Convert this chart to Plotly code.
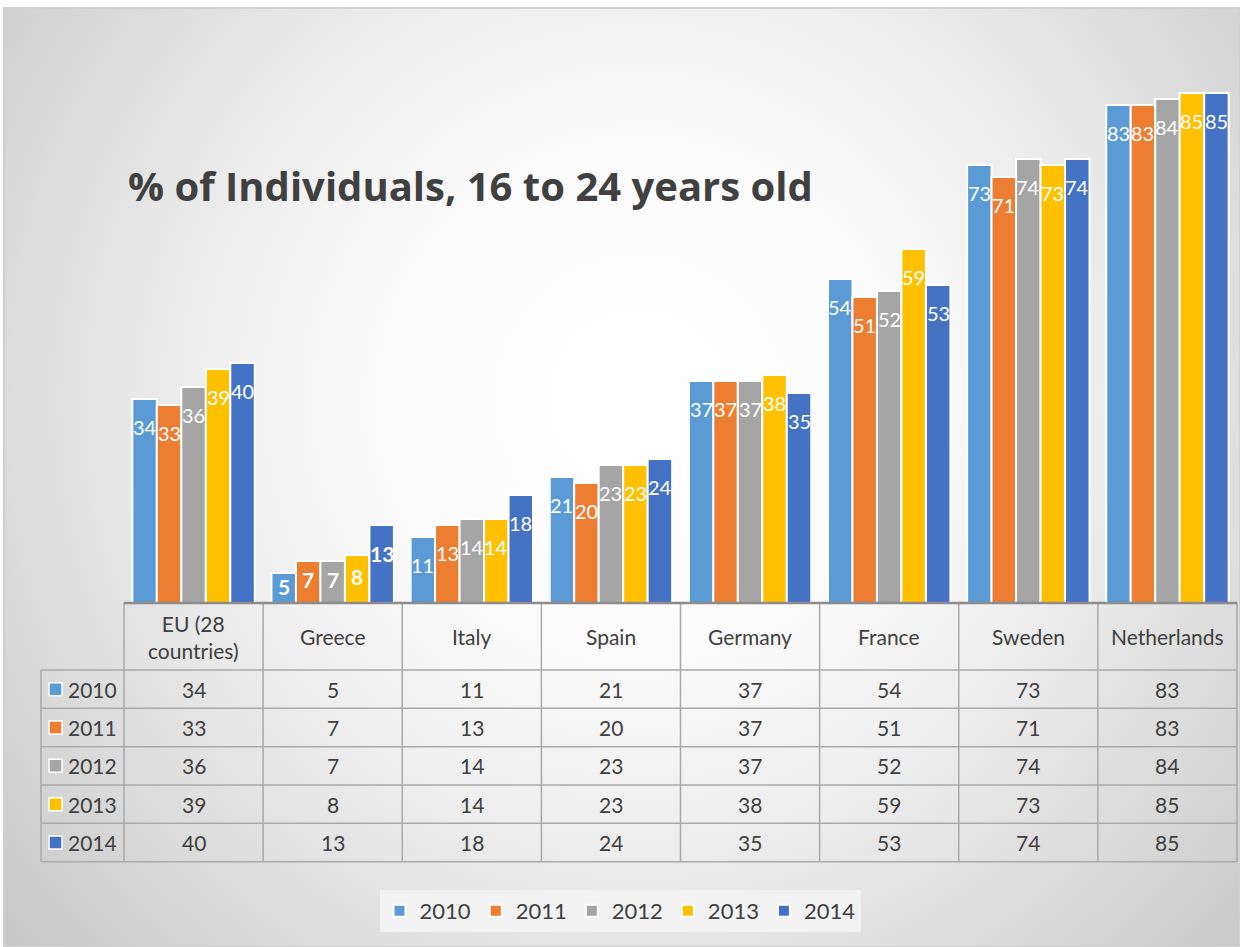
import base64
import plotly.graph_objects as go

# ---------------- data ----------------
categories = ["EU (28 countries)", "Greece", "Italy", "Spain", "Germany",
              "France", "Sweden", "Netherlands"]
years = ["2010", "2011", "2012", "2013", "2014"]
v2010 = [34, 5, 11, 21, 37, 54, 73, 83]
v2011 = [33, 7, 13, 20, 37, 51, 71, 83]
v2012 = [36, 7, 14, 23, 37, 52, 74, 84]
v2013 = [39, 8, 14, 23, 38, 59, 73, 85]
v2014 = [40, 13, 18, 24, 35, 53, 74, 85]
series = [v2010, v2011, v2012, v2013, v2014]
colors = ["#5B9BD5", "#ED7D31", "#A5A5A5", "#FFC000", "#4472C4"]
title = "% of Individuals, 16 to 24 years old"

# ---------------- geometry helpers ----------------
W, H = 1240, 947
def px(x):
    return x / W
def py(y):
    return 1 - y / H

X0, X1 = 124, 1237          # plot area / table columns
BASE, TOP = 603, 63         # baseline & top of plot area (px)
YMAX = 90
BARGAP = 0.12
cat_w = (X1 - X0) / len(categories)
bar_w = cat_w * (1 - BARGAP) / len(series)

ROW_TOP = 670
ROW_H = 38.33
ROW_LEFT = 41
FONT = "Lato, 'Open Sans', sans-serif"
TFONT = "'Open Sans', Lato, sans-serif"
TXT = "#404040"
GRID = "#a9a9a9"

fig = go.Figure()
for name, vals, col in zip(years, series, colors):
    fig.add_trace(go.Bar(
        name=name, x=categories, y=vals,
        marker=dict(color=col, line=dict(color="white", width=2)),
        hoverinfo="x+y+name",
    ))

annotations = []
shapes = []

# data labels (white, near top inside bar)
for i, (vals, col) in enumerate(zip(series, colors)):
    for cat, v in zip(categories, vals):
        bar_px = v * (BASE - TOP) / YMAX
        off = min(28, bar_px * 0.45)
        bold = cat == "Greece"
        annotations.append(dict(
            x=cat, y=v, xref="x", yref="y", showarrow=False,
            xshift=(i - (len(series) - 1) / 2) * bar_w, yshift=-off,
            yanchor="middle", xanchor="center",
            text=f"<b>{v}</b>" if bold else str(v),
            font=dict(family=FONT, size=21 if bold else 20, color="white"),
        ))

# title
annotations.append(dict(
    x=px(126), y=py(185), xref="paper", yref="paper", showarrow=False,
    xanchor="left", yanchor="middle", text=f"<b>{title}</b>",
    font=dict(family=TFONT, size=40, color=TXT),
))

# table header texts
for cat in categories:
    annotations.append(dict(
        x=cat, y=py((BASE + ROW_TOP) / 2), xref="x", yref="paper", showarrow=False,
        xanchor="center", yanchor="middle",
        text=cat.replace("(28 ", "(28<br>"),
        font=dict(family=FONT, size=21, color=TXT),
    ))

# table body texts
for r, (name, vals, col) in enumerate(zip(years, series, colors)):
    yc = ROW_TOP + ROW_H * (r + 0.5)
    for cat, v in zip(categories, vals):
        annotations.append(dict(
            x=cat, y=py(yc), xref="x", yref="paper", showarrow=False,
            xanchor="center", yanchor="middle", text=str(v),
            font=dict(family=FONT, size=21, color=TXT),
        ))
    annotations.append(dict(
        x=px(66), y=py(yc), xref="paper", yref="paper", showarrow=False,
        xanchor="left", yanchor="middle", text=name,
        font=dict(family=FONT, size=21, color=TXT),
    ))
    shapes.append(dict(
        type="rect", xref="paper", yref="paper",
        x0=px(49), x1=px(62), y0=py(yc - 6.5), y1=py(yc + 6.5),
        fillcolor=col, line=dict(color="white", width=1.5), layer="above",
    ))

# table grid
ROW_BOTTOM = ROW_TOP + ROW_H * len(series)
for k in range(len(categories) + 1):
    xv = X0 + cat_w * k
    shapes.append(dict(type="line", xref="paper", yref="paper",
                       x0=px(xv), x1=px(xv), y0=py(BASE), y1=py(ROW_BOTTOM),
                       line=dict(color=GRID, width=1.5)))
shapes.append(dict(type="line", xref="paper", yref="paper",
                   x0=px(ROW_LEFT), x1=px(ROW_LEFT), y0=py(ROW_TOP), y1=py(ROW_BOTTOM),
                   line=dict(color=GRID, width=1.5)))
for r in range(len(series) + 1):
    yv = ROW_TOP + ROW_H * r
    shapes.append(dict(type="line", xref="paper", yref="paper",
                       x0=px(ROW_LEFT), x1=px(X1), y0=py(yv), y1=py(yv),
                       line=dict(color=GRID, width=1.5)))
# axis baseline (table top)
shapes.append(dict(type="line", xref="paper", yref="paper",
                   x0=px(X0), x1=px(X1), y0=py(BASE), y1=py(BASE),
                   line=dict(color="#8c8c8c", width=2.5)))

# radial gradient background
svg = f"""<svg xmlns='http://www.w3.org/2000/svg' width='{W}' height='{H}' viewBox='0 0 {W} {H}' preserveAspectRatio='none'>
<defs><radialGradient id='g' gradientUnits='userSpaceOnUse' cx='640' cy='400' r='900'>
<stop offset='0' stop-color='#ffffff'/>
<stop offset='0.28' stop-color='#fbfbfb'/>
<stop offset='0.5' stop-color='#ededed'/>
<stop offset='0.7' stop-color='#dcdcdc'/>
<stop offset='0.88' stop-color='#cbcbcb'/>
<stop offset='1' stop-color='#bfbfbf'/>
</radialGradient></defs>
<rect x='4' y='8' width='{W-4}' height='{H-8}' fill='url(#g)' stroke='#d0d0d0' stroke-width='2'/>
</svg>"""
src = "data:image/svg+xml;base64," + base64.b64encode(svg.encode()).decode()

fig.update_layout(
    width=W, height=H, autosize=False,
    margin=dict(l=0, r=0, t=0, b=0),
    paper_bgcolor="white", plot_bgcolor="rgba(0,0,0,0)",
    barmode="group", bargap=BARGAP, bargroupgap=0,
    xaxis=dict(domain=[px(X0), px(X1)], showticklabels=False, showgrid=False,
               zeroline=False, showline=False, fixedrange=True),
    yaxis=dict(domain=[py(BASE), py(TOP)], range=[0, YMAX], visible=False,
               fixedrange=True),
    showlegend=True,
    legend=dict(orientation="h", x=0.5, xanchor="center", y=py(890), yanchor="top",
                bgcolor="#f2f2f2", font=dict(family=FONT, size=22, color=TXT),
                itemwidth=30, traceorder="normal"),
    images=[dict(source=src, xref="paper", yref="paper", x=0, y=1, sizex=1, sizey=1,
                 sizing="stretch", xanchor="left", yanchor="top", layer="below")],
    annotations=annotations, shapes=shapes,
)

fig.write_html("out.html", config={"displayModeBar": False},
               post_script="document.body.style.margin='0';document.body.style.overflow='hidden';")
